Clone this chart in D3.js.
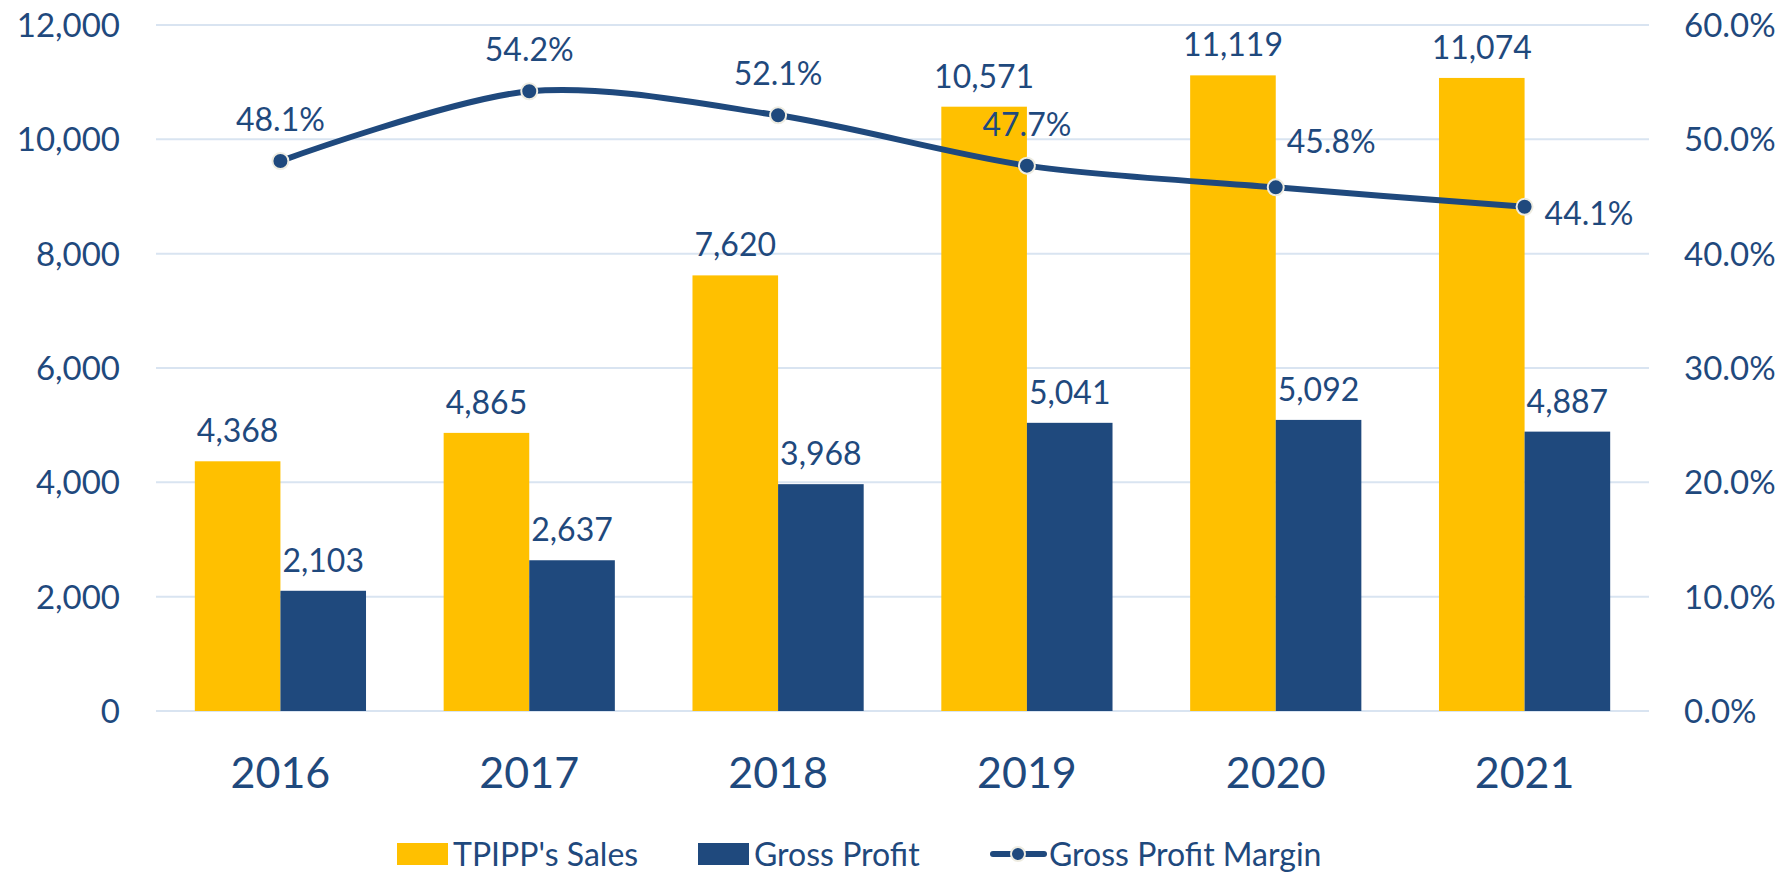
<!DOCTYPE html>
<html>
<head>
<meta charset="utf-8">
<script src="https://cdn.jsdelivr.net/npm/d3@7"></script>
<style>
  body { margin: 0; background: #fff; }
  svg { display: block; font-family: Lato, "Open Sans", sans-serif; }
</style>
</head>
<body>
<svg class="chart" width="1786" height="877"></svg>
<script>
const years = ["2016", "2017", "2018", "2019", "2020", "2021"];
const sales = [4368, 4865, 7620, 10571, 11119, 11074];
const grossProfit = [2103, 2637, 3968, 5041, 5092, 4887];
const margin = [0.481, 0.542, 0.521, 0.477, 0.458, 0.441];
const leftTicks = [0, 2000, 4000, 6000, 8000, 10000, 12000];
const rightTicks = [0, 0.1, 0.2, 0.3, 0.4, 0.5, 0.6];
const legendNames = ["TPIPP's Sales", "Gross Profit", "Gross Profit Margin"];
// where each margin label sits relative to its point
const marginLabelPos = ["above", "above", "above", "above", "upright", "right"];

const YELLOW = "#FFC000", BLUE = "#1F497D", TEXT = "#1F497D", GRID = "#D9E4F1";

const svg = d3.select(".chart");
const plot = { left: 156, right: 1649, top: 25, bottom: 711 };

const x = d3.scaleBand().domain(years).range([plot.left, plot.right]).padding(0);
const yLeft = d3.scaleLinear().domain([0, 12000]).range([plot.bottom, plot.top]);
const yRight = d3.scaleLinear().domain([0, 0.6]).range([plot.bottom, plot.top]);
const barW = x.bandwidth() * 0.344;
const cx = d => x(d) + x.bandwidth() / 2;

// gridlines
svg.append("g")
  .selectAll("line")
  .data(leftTicks)
  .join("line")
    .attr("x1", plot.left).attr("x2", plot.right)
    .attr("y1", d => yLeft(d)).attr("y2", d => yLeft(d))
    .attr("stroke", GRID).attr("stroke-width", 2);

// left axis labels
svg.append("g")
  .selectAll("text")
  .data(leftTicks)
  .join("text")
    .attr("x", 120).attr("y", d => yLeft(d))
    .attr("dy", "0.36em")
    .attr("text-anchor", "end")
    .attr("font-size", 33).attr("fill", TEXT)
    .text(d3.format(","));

// right axis labels
svg.append("g")
  .selectAll("text")
  .data(rightTicks)
  .join("text")
    .attr("x", 1684).attr("y", d => yRight(d))
    .attr("dy", "0.36em")
    .attr("font-size", 33).attr("fill", TEXT)
    .text(d3.format(".1%"));

// category labels
svg.append("g")
  .selectAll("text")
  .data(years)
  .join("text")
    .attr("x", cx).attr("y", 788)
    .attr("text-anchor", "middle")
    .attr("font-size", 43).attr("fill", TEXT)
    .text(d => d);

// bars
const bars = svg.append("g");
bars.selectAll(".sales")
  .data(sales)
  .join("rect")
    .attr("class", "sales")
    .attr("x", (d, i) => cx(years[i]) - barW)
    .attr("y", d => yLeft(d))
    .attr("width", barW)
    .attr("height", d => yLeft(0) - yLeft(d))
    .attr("fill", YELLOW);

bars.selectAll(".profit")
  .data(grossProfit)
  .join("rect")
    .attr("class", "profit")
    .attr("x", (d, i) => cx(years[i]))
    .attr("y", d => yLeft(d))
    .attr("width", barW)
    .attr("height", d => yLeft(0) - yLeft(d))
    .attr("fill", BLUE);

// bar labels
const fmt = d3.format(",");
svg.append("g")
  .selectAll("text")
  .data(sales)
  .join("text")
    .attr("x", (d, i) => cx(years[i]) - barW / 2)
    .attr("y", d => yLeft(d) - 19)
    .attr("text-anchor", "middle")
    .attr("font-size", 32).attr("fill", TEXT)
    .text(fmt);

svg.append("g")
  .selectAll("text")
  .data(grossProfit)
  .join("text")
    .attr("x", (d, i) => cx(years[i]) + barW / 2)
    .attr("y", d => yLeft(d) - 19)
    .attr("text-anchor", "middle")
    .attr("font-size", 32).attr("fill", TEXT)
    .text(fmt);

// margin line
const line = d3.line()
  .x((d, i) => cx(years[i]))
  .y(d => yRight(d))
  .curve(d3.curveCardinal.tension(0.1));

svg.append("path")
  .datum(margin)
  .attr("d", line)
  .attr("fill", "none")
  .attr("stroke", BLUE)
  .attr("stroke-width", 6)
  .attr("stroke-linecap", "round");

svg.append("g")
  .selectAll("circle")
  .data(margin)
  .join("circle")
    .attr("cx", (d, i) => cx(years[i]))
    .attr("cy", d => yRight(d))
    .attr("r", 8)
    .attr("fill", BLUE)
    .attr("stroke", "#EEECE1")
    .attr("stroke-width", 2);

svg.append("g")
  .selectAll("text")
  .data(margin)
  .join("text")
    .attr("x", (d, i) => {
      const p = marginLabelPos[i];
      if (p === "right") return cx(years[i]) + 20;
      if (p === "upright") return cx(years[i]) + 11;
      return cx(years[i]);
    })
    .attr("y", (d, i) => {
      const p = marginLabelPos[i];
      if (p === "right") return yRight(d) + 18;
      if (p === "upright") return yRight(d) - 34;
      return yRight(d) - 30;
    })
    .attr("text-anchor", (d, i) => marginLabelPos[i] === "above" ? "middle" : "start")
    .attr("font-size", 32).attr("fill", TEXT)
    .text(d3.format(".1%"));

// legend
const legend = svg.append("g");
const legendX = [397, 698, 990];
const legendY = 854;

legend.append("rect")
  .attr("x", legendX[0]).attr("y", legendY - 11)
  .attr("width", 51).attr("height", 22)
  .attr("fill", YELLOW);
legend.append("rect")
  .attr("x", legendX[1]).attr("y", legendY - 11)
  .attr("width", 51).attr("height", 22)
  .attr("fill", BLUE);
legend.append("line")
  .attr("x1", legendX[2] + 3).attr("x2", legendX[2] + 54)
  .attr("y1", legendY).attr("y2", legendY)
  .attr("stroke", BLUE).attr("stroke-width", 6)
  .attr("stroke-linecap", "round");
legend.append("circle")
  .attr("cx", legendX[2] + 28).attr("cy", legendY)
  .attr("r", 7)
  .attr("fill", BLUE)
  .attr("stroke", "#EEECE1").attr("stroke-width", 2);

legend.selectAll("text")
  .data(legendNames)
  .join("text")
    .attr("x", (d, i) => legendX[i] + (i === 2 ? 59 : 56))
    .attr("y", legendY)
    .attr("dy", "0.36em")
    .attr("font-size", 32).attr("fill", TEXT)
    .text(d => d);
</script>
</body>
</html>
